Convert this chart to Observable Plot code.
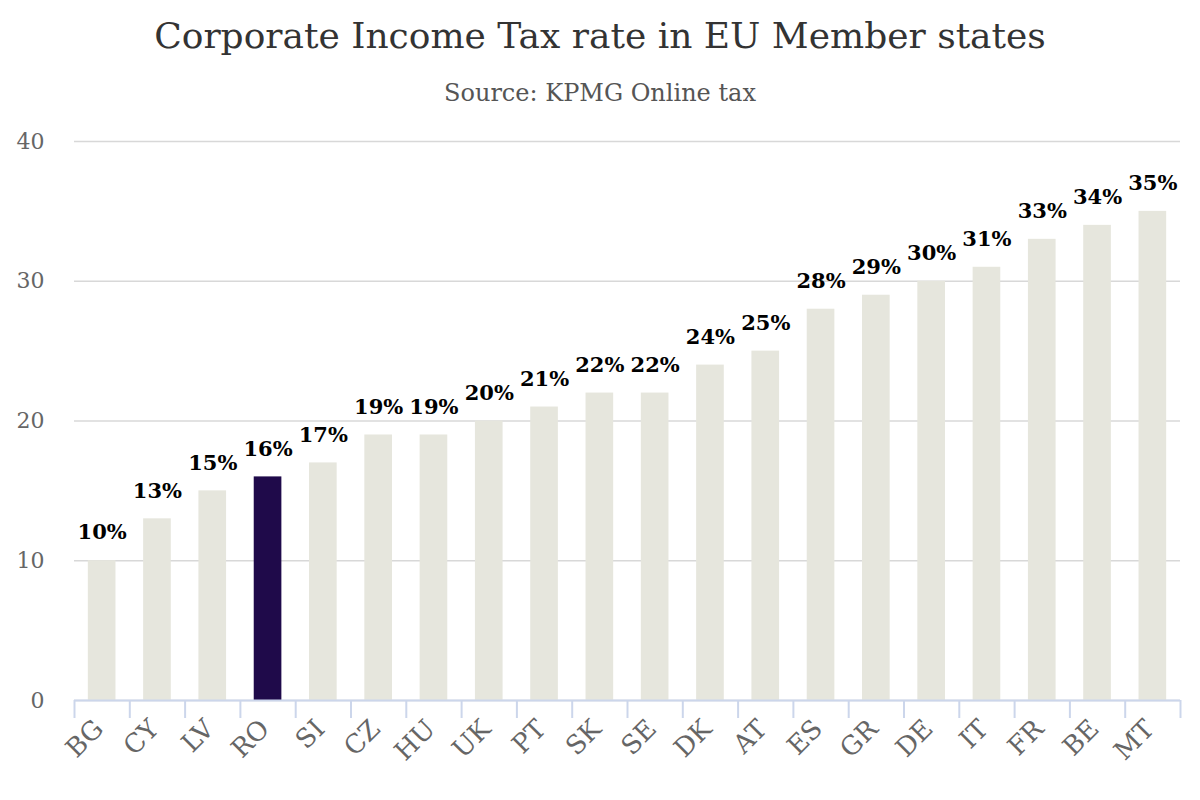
<!DOCTYPE html>
<html>
<head>
<meta charset="utf-8">
<script src="https://cdn.jsdelivr.net/npm/d3@7"></script>
<script src="https://cdn.jsdelivr.net/npm/@observablehq/plot@0.6"></script>
<style>
  html, body { margin: 0; padding: 0; background: #fff; }
  #wrap { width: 1200px; height: 800px; font-family: "DejaVu Serif", serif; }
  #title { text-align: center; font-size: 36px; color: #333; height: 72px; line-height: 72px; }
  #subtitle { text-align: center; font-size: 24px; color: #555; height: 43px; line-height: 43px; }
</style>
</head>
<body>
<div id="wrap">
  <div id="title">Corporate Income Tax rate in EU Member states</div>
  <div id="subtitle">Source: KPMG Online tax</div>
  <div id="chart"></div>
</div>
<script>
const countries = ["BG","CY","LV","RO","SI","CZ","HU","UK","PT","SK","SE","DK","AT","ES","GR","DE","IT","FR","BE","MT"];
const rates = [10,13,15,16,17,19,19,20,21,22,22,24,25,28,29,30,31,33,34,35];
const highlight = "RO";
const yTicks = [0,10,20,30,40];

const data = countries.map((c, i) => ({country: c, rate: rates[i]}));

const W = 1200, H = 685, ML = 74, MR = 20, MT = 26, MB = 100;
const step = (W - ML - MR) / countries.length;

const chart = Plot.plot({
  width: W, height: H,
  marginLeft: ML, marginRight: MR, marginTop: MT, marginBottom: MB,
  style: {fontFamily: "DejaVu Serif, serif", background: "#fff"},
  x: {domain: countries, paddingInner: 0.5, paddingOuter: 0.25, round: false, label: null},
  y: {domain: [0, 40], label: null},
  marks: [
    Plot.gridY(yTicks, {stroke: "#d8d8d8", strokeOpacity: 1, strokeWidth: 1.5}),
    Plot.barY(data, {x: "country", y: "rate", fill: d => d.country === highlight ? "#1f0a4a" : "#e6e6dd"}),
    Plot.text(data, {x: "country", y: "rate", text: d => d.rate + "%", dy: -28, fontWeight: "bold", fontSize: 21, fill: "#000"}),
    Plot.ruleY([0], {stroke: "#ccd6eb", strokeWidth: 2}),
    Plot.axisY(yTicks, {tickSize: 0, tickPadding: 30, fontSize: 22, fill: "#666", label: null}),
    Plot.axisX({tickSize: 18, dx: -step / 2, tickFormat: () => "", stroke: "#ccd6eb", strokeWidth: 2, strokeOpacity: 1, label: null}),
    Plot.axisX([countries[countries.length - 1]], {tickSize: 18, dx: step / 2, tickFormat: () => "", stroke: "#ccd6eb", strokeWidth: 2, strokeOpacity: 1, label: null}),
    Plot.axisX({tickSize: 0, tickPadding: 24, dx: -3, tickRotate: -45, fontSize: 26, fill: "#666", label: null})
  ]
});
document.getElementById("chart").appendChild(chart);
</script>
</body>
</html>
